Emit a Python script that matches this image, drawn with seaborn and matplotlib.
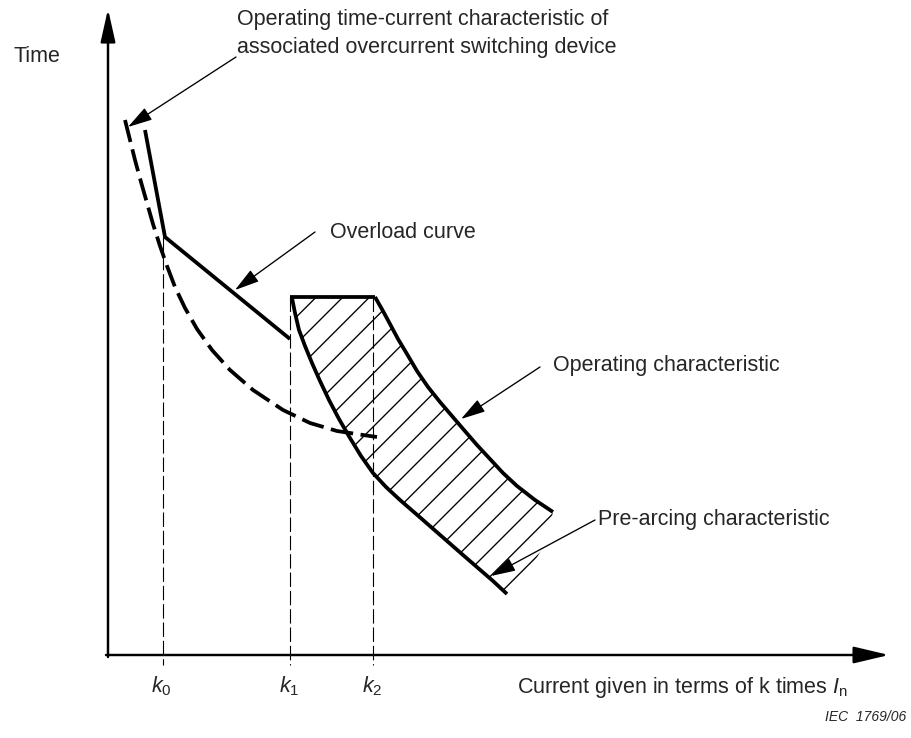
import numpy as np
import pandas as pd
import seaborn as sns
import matplotlib.pyplot as plt

# ---- data (drawing coordinates: x to the right, y downward like the figure) ----
device_x = [125, 130, 135, 141, 147, 153, 160, 167, 175, 185, 197, 212, 230, 253, 283, 310, 337, 363, 377]
device_y = [120, 140, 160, 182, 203, 224, 246, 266, 287, 308, 329, 350, 370, 390, 410, 423, 431, 435, 437]

overload_x = [145, 165, 290]
overload_y = [130, 237, 339]

prearc_x = [292, 295, 299, 305, 312, 320, 329, 339, 350, 361, 373, 386, 400, 415, 431, 447, 463, 478, 493, 507]
prearc_y = [298, 313, 330, 346, 363, 381, 400, 419, 438, 456, 473, 487, 500, 513, 527, 541, 555, 568, 581, 594]

operating_x = [375, 383, 390, 398, 407, 417, 428, 440, 452, 464, 477, 490, 503, 517, 535, 553]
operating_y = [297, 311, 324, 339, 354, 371, 387, 402, 416, 430, 445, 459, 473, 486, 500, 512]

hatch_tail_x = [547, 527, 512]
hatch_tail_y = [540, 575, 598]

top_x = [290, 375]
top_y = [297, 297]

k_positions = [163, 290, 373]
k_tops = [237, 297, 297]
k_labels = [r"$k_0$", r"$k_1$", r"$k_2$"]
k_label_x = [161, 289, 372]

sns.set_style("white")
plt.rcParams["font.family"] = ["Liberation Sans", "DejaVu Sans"]
plt.rcParams["mathtext.fontset"] = "custom"
plt.rcParams["mathtext.it"] = "Liberation Sans:italic"
plt.rcParams["mathtext.rm"] = "Liberation Sans"
plt.rcParams["hatch.linewidth"] = 1.2

DPI = 80
fig = plt.figure(figsize=(911 / DPI, 738 / DPI), dpi=DPI)
ax = fig.add_axes([0, 0, 1, 1])
ax.set_xlim(0, 911)
ax.set_ylim(738, 0)
ax.axis("off")

# hatched operating zone
poly_x = top_x + operating_x + hatch_tail_x + prearc_x[::-1]
poly_y = top_y + operating_y + hatch_tail_y + prearc_y[::-1]
ax.fill(poly_x, poly_y, facecolor="white", edgecolor="black", hatch="/", linewidth=0)

# dashed k-lines
for kx, kt in zip(k_positions, k_tops):
    sns.lineplot(x=[kx, kx], y=[kt, 665], color="black", lw=1.0,
                 linestyle=(0, (13, 3.5)), ax=ax, estimator=None, sort=False)

# curves
LW = 3.4
sns.lineplot(x=device_x, y=device_y, color="black", lw=LW,
             linestyle=(0, (6.0, 2.0)), ax=ax, estimator=None, sort=False)
for cx, cy in [(overload_x, overload_y), (prearc_x, prearc_y),
               (operating_x, operating_y), (top_x, top_y)]:
    sns.lineplot(x=cx, y=cy, color="black", lw=LW, ax=ax,
                 estimator=None, sort=False, solid_joinstyle="round",
                 solid_capstyle="butt")

# axes arrows
ax.annotate("", xy=(108, 9), xytext=(108, 657),
            arrowprops=dict(arrowstyle="-|>,head_length=1.25,head_width=0.28",
                            mutation_scale=20, lw=2.2, color="black",
                            shrinkA=0, shrinkB=0))
ax.annotate("", xy=(889, 655), xytext=(106, 655),
            arrowprops=dict(arrowstyle="-|>,head_length=1.35,head_width=0.32",
                            mutation_scale=20, lw=2.2, color="black",
                            shrinkA=0, shrinkB=0))

FS = 19.4
ax.text(13, 57, "Time", fontsize=FS, va="center", ha="left")
ax.text(237, 20, "Operating time-current characteristic of", fontsize=FS, va="center", ha="left")
ax.text(237, 48, "associated overcurrent switching device", fontsize=FS, va="center", ha="left")
ax.text(330, 232, "Overload curve", fontsize=FS, va="center", ha="left")
ax.text(553, 366, "Operating characteristic", fontsize=FS, va="center", ha="left")
ax.text(598, 520, "Pre-arcing characteristic", fontsize=FS, va="center", ha="left")
ax.text(517, 688, r"Current given in terms of k times $I_\mathrm{n}$", fontsize=FS,
        va="center", ha="left")
for lx, lab in zip(k_label_x, k_labels):
    ax.text(lx, 686, lab, fontsize=FS, va="center", ha="center")
ax.text(906, 717, "IEC  1769/06", fontsize=12.5, style="italic", va="center", ha="right")

arrow_kw = dict(arrowstyle="-|>,head_length=1.05,head_width=0.3",
                mutation_scale=18, lw=1.2, color="black", shrinkA=0, shrinkB=0)
ax.annotate("", xy=(128, 127), xytext=(236, 57), arrowprops=arrow_kw)
ax.annotate("", xy=(235, 290), xytext=(315, 232), arrowprops=arrow_kw)
ax.annotate("", xy=(461, 419), xytext=(540, 367), arrowprops=arrow_kw)
ax.annotate("", xy=(491, 576), xytext=(595, 520), arrowprops=arrow_kw)

fig.savefig("out.png", dpi=DPI)
